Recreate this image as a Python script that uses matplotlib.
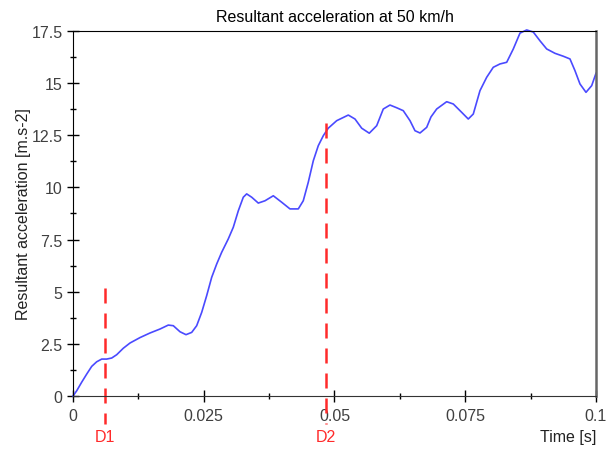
import matplotlib.pyplot as plt
from matplotlib.ticker import MultipleLocator, FuncFormatter

plt.rcParams['font.family'] = ['Liberation Sans', 'DejaVu Sans']

# values
time_s = [0, 0.00071, 0.00166, 0.00262, 0.00358, 0.00453, 0.00549, 0.00644,
          0.0074, 0.00836, 0.00962, 0.0109, 0.01281, 0.01472, 0.01663,
          0.01822, 0.01918, 0.02046, 0.02161, 0.0227, 0.02365, 0.02461,
          0.02556, 0.02652, 0.02748, 0.02843, 0.02969, 0.03065, 0.03161,
          0.03256, 0.03321, 0.03417, 0.03543, 0.03671, 0.0383, 0.0399,
          0.04149, 0.04308, 0.04403, 0.04499, 0.04595, 0.0469, 0.04786,
          0.04881, 0.05042, 0.05264, 0.05392, 0.0552, 0.05665, 0.05807,
          0.05933, 0.06061, 0.06189, 0.06315, 0.06444, 0.06539, 0.06635,
          0.06763, 0.06845, 0.06954, 0.07145, 0.07272, 0.07432, 0.07558,
          0.07654, 0.07782, 0.0791, 0.08036, 0.08164, 0.08293, 0.08419,
          0.08547, 0.08675, 0.08801, 0.08929, 0.09057, 0.09216, 0.09375,
          0.09503, 0.09598, 0.09694, 0.09809, 0.09918, 0.1]
accel = [0, 0.25, 0.66, 1.05, 1.42, 1.64, 1.77, 1.77, 1.82, 1.98, 2.29,
         2.54, 2.80, 3.02, 3.21, 3.40, 3.37, 3.08, 2.94, 3.05, 3.37, 4.01,
         4.81, 5.69, 6.33, 6.89, 7.53, 8.09, 8.88, 9.53, 9.69, 9.53, 9.25,
         9.36, 9.60, 9.29, 8.97, 8.97, 9.36, 10.25, 11.28, 12.00, 12.48,
         12.84, 13.20, 13.47, 13.28, 12.84, 12.60, 12.96, 13.76, 13.95,
         13.82, 13.68, 13.20, 12.72, 12.61, 12.88, 13.38, 13.76, 14.11,
         14.00, 13.60, 13.28, 13.52, 14.64, 15.28, 15.76, 15.92, 16.00,
         16.64, 17.40, 17.55, 17.45, 17.03, 16.64, 16.43, 16.29, 16.16,
         15.60, 14.96, 14.56, 14.88, 15.47]

marker_names = ['D1', 'D2']
marker_times = [0.0061, 0.0484]
marker_tops = [5.2, 13.1]

fig = plt.figure(figsize=(6.16, 4.52), dpi=100)
ax = fig.add_axes([0.1185, 0.1217, 0.849, 0.8075])

ax.plot(time_s, accel, color='#4a4aff', lw=1.2, clip_on=False,
        solid_joinstyle='round')

for name, t, top in zip(marker_names, marker_times, marker_tops):
    # drawn from the top so the pattern starts with a full dash
    ax.plot([t, t], [top, -1.35], color='#ff2a2a', lw=1.8,
            dashes=(6, 4), clip_on=False)
    ax.text(t, -1.92, name, color='#ff2a2a', fontsize=11.5,
            ha='center', va='center', clip_on=False)

ax.set_xlim(0, 0.1)
ax.set_ylim(0, 17.5)
ax.xaxis.set_major_locator(MultipleLocator(0.025))
ax.xaxis.set_minor_locator(MultipleLocator(0.0125))
ax.yaxis.set_major_locator(MultipleLocator(2.5))
ax.yaxis.set_minor_locator(MultipleLocator(1.25))
fmt = FuncFormatter(lambda v, p: '{:g}'.format(round(v, 4)))
ax.xaxis.set_major_formatter(fmt)
ax.yaxis.set_major_formatter(fmt)

ax.tick_params(which='major', direction='inout', length=9, width=1,
               labelsize=11.5, labelcolor='#404040', pad=3)
ax.tick_params(which='minor', direction='inout', length=5, width=1)
ax.tick_params(axis='x', which='major', pad=4)

for s in ['left', 'top']:
    ax.spines[s].set_color('black')
ax.spines['bottom'].set_color('#333333')
ax.spines['right'].set_color('#666666')
ax.spines['right'].set_linewidth(1.8)

ax.set_title('Resultant acceleration at 50 km/h', fontsize=11.5, pad=7.5)
ax.set_ylabel('Resultant acceleration [m.s-2]', fontsize=11.5,
              color='#222222', labelpad=0.5)
ax.text(0.1, -1.92, 'Time [s]', ha='right', va='center', fontsize=11.5,
        color='#222222', clip_on=False)

fig.savefig('out.png', dpi=100)
